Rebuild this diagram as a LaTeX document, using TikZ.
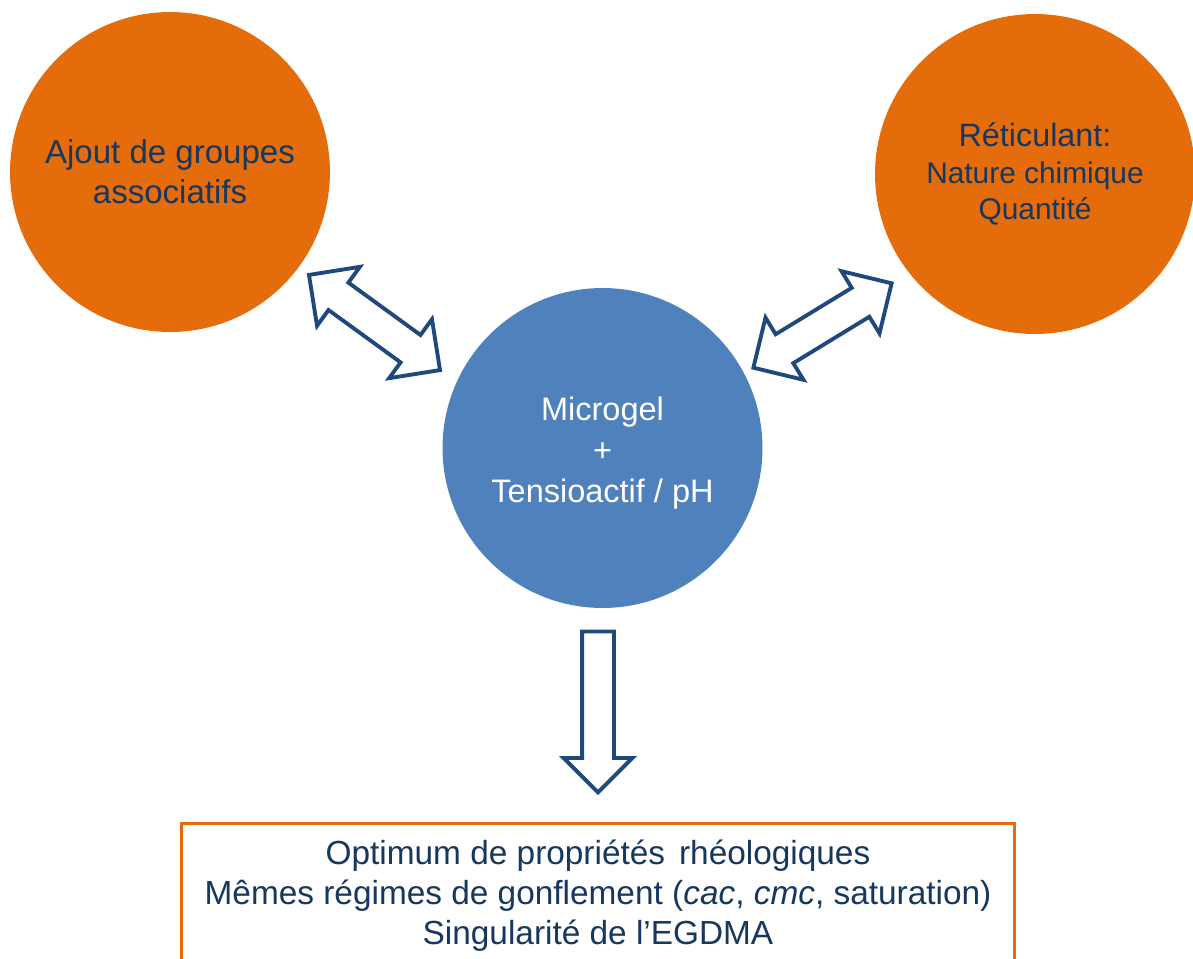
\documentclass[tikz,border=0pt]{standalone}
\usepackage{fontspec}
\setmainfont{Liberation Sans}
\usetikzlibrary{shapes.arrows,calc}
\definecolor{ink}{HTML}{17375E}
\definecolor{arrowblue}{HTML}{1F497D}
\definecolor{orange}{HTML}{E46C0A}
\definecolor{steel}{HTML}{4F81BD}
\tikzset{
  blob/.style={circle,minimum size=6.4cm,inner sep=0pt,align=center,text=ink},
  hollow/.style={draw=arrowblue,fill=white,line width=2.2pt,inner xsep=0pt,inner ysep=0.3cm},
  twoway/.style={hollow,double arrow,double arrow head extend=0.39cm,minimum height=3.24cm},
  oneway/.style={hollow,single arrow,inner ysep=0.28cm,single arrow head extend=0.37cm,minimum height=3.22cm},
  resultbox/.style={draw=orange,line width=1.7pt,fill=white,minimum width=16.68cm,minimum height=2.92cm,align=center,text=ink},
}

\begin{document}
\begin{tikzpicture}[x=0.02cm,y=-0.02cm]
\clip (0,0) rectangle (1193,958);

% parameters ------------------------------------------------------------------
\node[blob,fill=orange,font=\fontsize{18.8}{22.7}\selectfont] (ajout) at (170,172) {Ajout de groupes\\associatifs};
\node[blob,fill=orange,font=\fontsize{17}{21}\selectfont] (reticulant) at (1035,174) {{\fontsize{18.4}{21}\selectfont Réticulant:}\\Nature chimique\\Quantité};

% system ----------------------------------------------------------------------
\node[blob,fill=steel,label={[text=white,align=center,font=\fontsize{18.5}{23.3}\selectfont,yshift=-0.11cm]center:Microgel\\+\\Tensioactif / pH}] (micro) at (602.5,448) {};

% links -----------------------------------------------------------------------
\node[twoway,rotate=-36] (linkL) at (374.5,322.5) {};
\node[twoway,rotate=31.4] (linkR) at (822.5,325.5) {};
\node[oneway,rotate=-90] (down) at (598,704) {};

% outcome ---------------------------------------------------------------------
\node[resultbox,font=\fontsize{19}{22.7}\selectfont] (result) at (598,896) {Optimum de propriétés\hspace{0.42em}rhéologiques\\Mêmes régimes de gonflement (\textit{cac}, \textit{cmc}, saturation)\\Singularité de l’EGDMA};

\end{tikzpicture}
\end{document}
